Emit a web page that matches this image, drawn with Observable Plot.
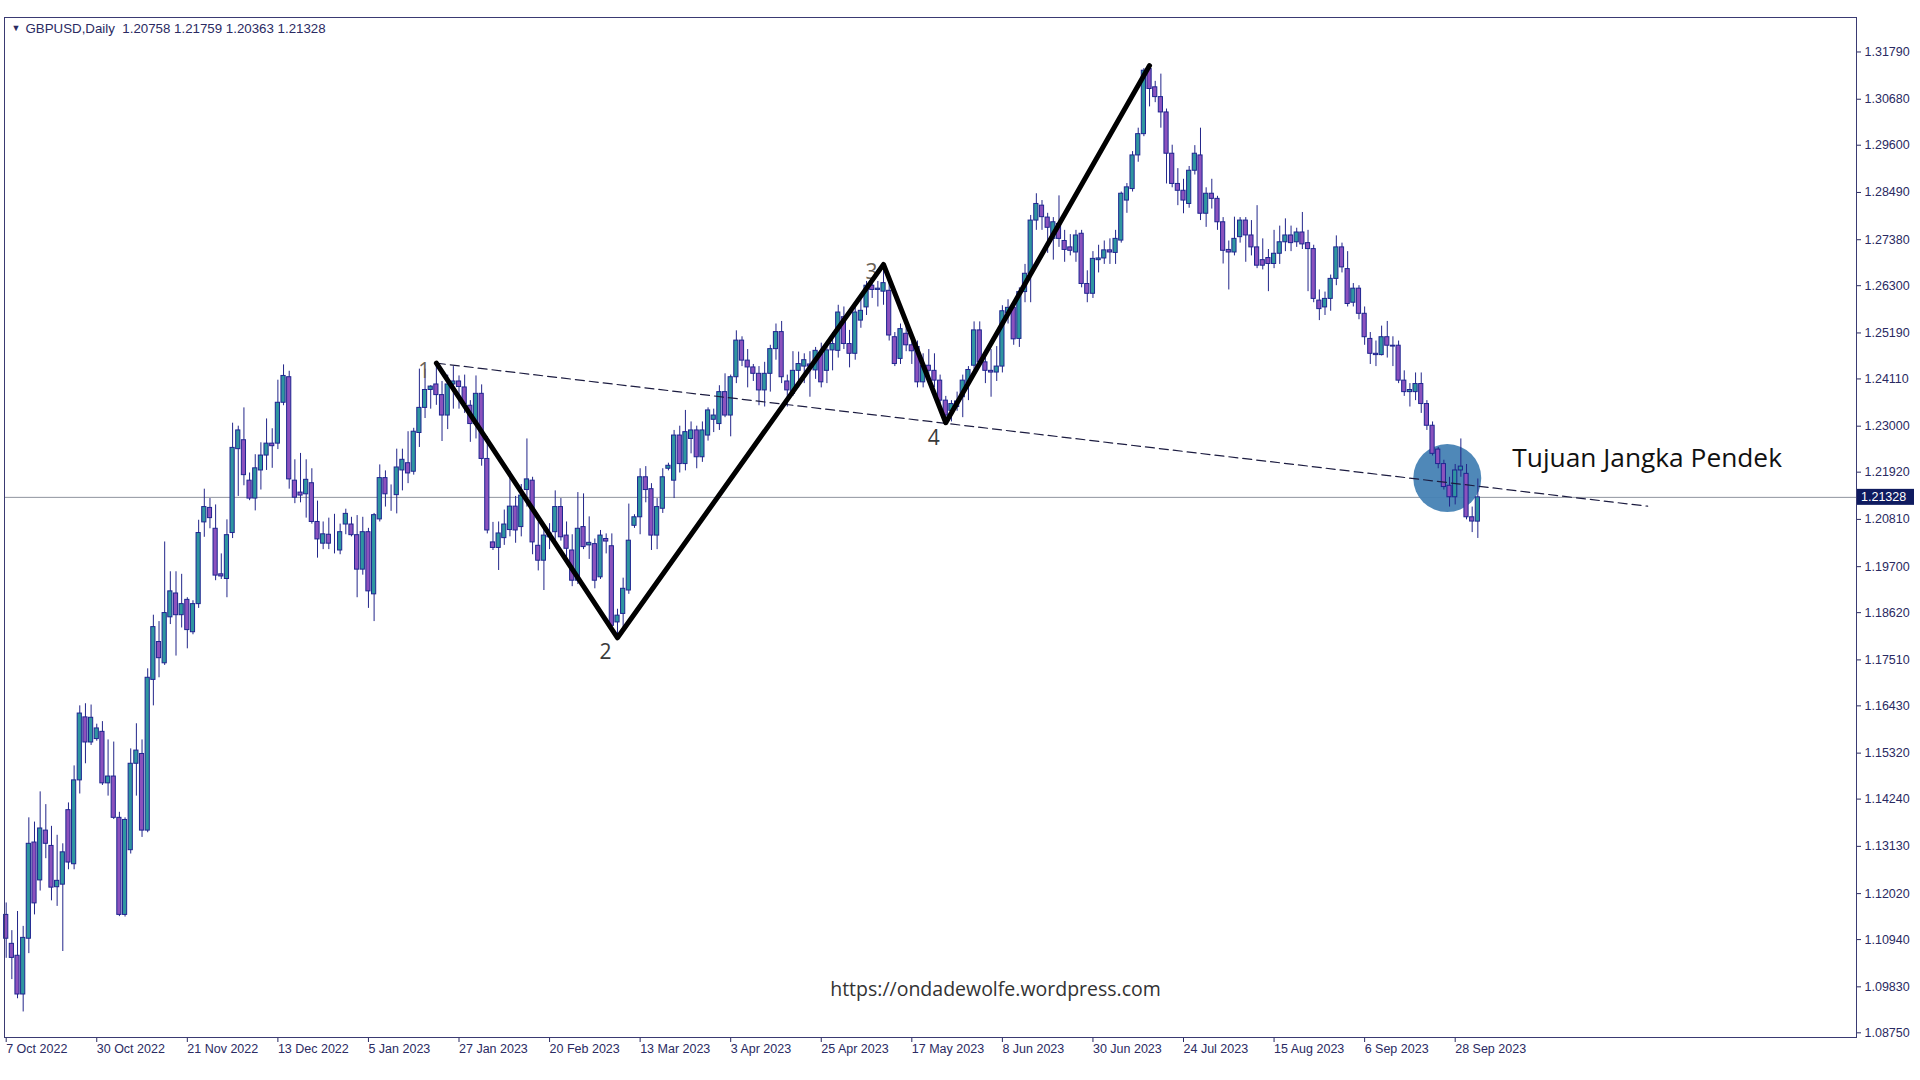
<!DOCTYPE html>
<html><head><meta charset="utf-8">
<script src="https://cdn.jsdelivr.net/npm/d3@7"></script>
<script src="https://cdn.jsdelivr.net/npm/@observablehq/plot@0.6"></script>
<style>html,body{margin:0;padding:0;background:#fff;overflow:hidden}</style>
</head><body><div id="chart"></div>
<script>
const symbol = "GBPUSD,Daily";

const opens = [
1.1152,1.1084,1.1056,1.0965,1.1096,1.1322,1.1233,1.1350,1.1314,1.1217,
1.1223,1.1398,1.1271,1.1468,1.1616,1.1557,1.1565,1.1582,1.1461,1.1477,
1.1380,1.1152,1.1304,1.1507,1.1530,1.1350,1.1704,1.1793,1.1743,1.1851,
1.1907,1.1856,1.1892,1.1816,1.1882,1.2074,1.2108,1.2059,1.1952,1.1941,
1.2049,1.2246,1.2267,1.2172,1.2130,1.2196,1.2231,1.2259,1.2259,1.2355,
1.2415,1.2172,1.2144,1.2140,1.2166,1.2075,1.2024,1.2045,1.2020,1.2008,
1.2069,1.2069,1.2044,1.1963,1.2051,1.1905,1.2081,1.2178,1.2148,1.2138,
1.2196,1.2213,1.2193,1.2284,1.2343,1.2385,1.2398,1.2373,1.2325,1.2398,
1.2405,1.2391,1.2348,1.2305,1.2376,1.2223,1.2027,1.2014,1.2037,1.2056,
1.2111,1.2063,1.2150,1.2172,1.2019,1.1984,1.2039,1.2051,1.2110,1.2043,
1.2008,1.1937,1.2063,1.2020,1.2023,1.1945,1.2035,1.2018,1.1839,1.1859,
1.1914,1.2066,1.2086,1.2180,1.2152,1.2043,1.2106,1.2200,1.2172,1.2278,
1.2211,1.2270,1.2290,1.2227,1.2278,1.2315,1.2305,1.2380,1.2325,1.2415,
1.2501,1.2454,1.2438,1.2423,1.2384,1.2423,1.2481,1.2521,1.2405,1.2376,
1.2430,1.2440,1.2445,1.2431,1.2469,1.2430,1.2478,1.2477,1.2556,1.2493,
1.2470,1.2548,1.2579,1.2630,1.2620,1.2616,1.2618,1.2509,1.2458,1.2517,
1.2490,1.2486,1.2403,1.2442,1.2430,1.2407,1.2360,1.2336,1.2345,1.2368,
1.2400,1.2442,1.2525,1.2450,1.2430,1.2426,1.2440,1.2565,1.2578,1.2505,
1.2615,1.2658,1.2783,1.2818,1.2790,1.2740,1.2775,1.2735,1.2720,1.2708,
1.2752,1.2634,1.2611,1.2690,1.2694,1.2713,1.2707,1.2736,1.2830,1.2857,
1.2936,1.2986,1.3139,1.3096,1.3073,1.3037,1.2940,1.2869,1.2853,1.2822,
1.2900,1.2936,1.2799,1.2846,1.2834,1.2779,1.2714,1.2708,1.2744,1.2783,
1.2748,1.2720,1.2690,1.2695,1.2681,1.2705,1.2732,1.2748,1.2732,1.2755,
1.2730,1.2716,1.2595,1.2579,1.2599,1.2646,1.2720,1.2669,1.2590,1.2623,
1.2564,1.2505,1.2470,1.2467,1.2509,1.2489,1.2489,1.2407,1.2380,1.2380,
1.2399,1.2352,1.2301,1.2245,1.2211,1.2160,1.2133,1.2196,1.2188,1.2086,
1.20758];

const highs = [
1.1180,1.1115,1.1160,1.1125,1.1380,1.1370,1.1441,1.1411,1.1360,1.1339,
1.1319,1.1415,1.1502,1.1643,1.1648,1.1645,1.1600,1.1606,1.1563,1.1558,
1.1393,1.1380,1.1542,1.1601,1.1563,1.1730,1.1856,1.1841,1.2028,1.1958,
1.1958,1.1952,1.1897,1.1890,1.2079,1.2152,1.2130,1.2115,1.2000,1.2080,
1.2307,1.2300,1.2343,1.2190,1.2233,1.2261,1.2317,1.2294,1.2408,1.2444,
1.2429,1.2221,1.2236,1.2221,1.2200,1.2124,1.2075,1.2084,1.2093,1.2070,
1.2105,1.2086,1.2090,1.2086,1.2060,1.2095,1.2209,1.2195,1.2162,1.2246,
1.2246,1.2287,1.2295,1.2434,1.2434,1.2395,1.2448,1.2405,1.2420,1.2440,
1.2418,1.2420,1.2360,1.2418,1.2397,1.2275,1.2074,1.2075,1.2103,1.2194,
1.2135,1.2163,1.2270,1.2180,1.2075,1.2060,1.2071,1.2148,1.2130,1.2075,
1.2045,1.2144,1.2141,1.2087,1.2035,1.2055,1.2047,1.2047,1.1870,1.1943,
1.2117,1.2092,1.2200,1.2205,1.2165,1.2130,1.2200,1.2213,1.2290,1.2300,
1.2337,1.2310,1.2300,1.2310,1.2343,1.2340,1.2395,1.2423,1.2420,1.2524,
1.2510,1.2480,1.2445,1.2440,1.2450,1.2490,1.2540,1.2546,1.2420,1.2475,
1.2474,1.2470,1.2475,1.2485,1.2495,1.2490,1.2520,1.2584,1.2580,1.2525,
1.2580,1.2600,1.2640,1.2645,1.2640,1.2680,1.2640,1.2520,1.2540,1.2547,
1.2510,1.2500,1.2470,1.2480,1.2470,1.2420,1.2370,1.2360,1.2380,1.2420,
1.2440,1.2545,1.2545,1.2480,1.2480,1.2487,1.2583,1.2597,1.2590,1.2625,
1.2680,1.2795,1.2846,1.2830,1.2800,1.2790,1.2841,1.2760,1.2750,1.2760,
1.2760,1.2665,1.2710,1.2725,1.2735,1.2740,1.2760,1.2850,1.2870,1.2945,
1.3000,1.3140,1.3147,1.3110,1.3127,1.3045,1.2960,1.2905,1.2880,1.2910,
1.2959,1.3000,1.2860,1.2880,1.2840,1.2790,1.2735,1.2791,1.2790,1.2790,
1.2783,1.2818,1.2740,1.2715,1.2760,1.2770,1.2787,1.2770,1.2765,1.2802,
1.2760,1.2725,1.2620,1.2615,1.2655,1.2747,1.2730,1.2710,1.2635,1.2630,
1.2580,1.2520,1.2500,1.2535,1.2546,1.2510,1.2500,1.2430,1.2400,1.2425,
1.2425,1.2360,1.2310,1.2250,1.2220,1.2180,1.2210,1.2270,1.2210,1.2110,
1.21759];

const lows = [
1.1050,1.1000,1.0955,1.0924,1.1061,1.1152,1.1208,1.1284,1.1185,1.1172,
1.1066,1.1258,1.1258,1.1436,1.1507,1.1550,1.1560,1.1456,1.1431,1.1376,
1.1148,1.1147,1.1295,1.1431,1.1334,1.1345,1.1643,1.1709,1.1738,1.1834,
1.1760,1.1826,1.1777,1.1810,1.1872,1.2039,1.2059,1.1937,1.1940,1.1897,
1.2036,1.2135,1.2160,1.2125,1.2101,1.2150,1.2196,1.2201,1.2245,1.2348,
1.2152,1.2118,1.2120,1.2084,1.2070,1.1990,1.2010,1.2010,1.2000,1.1998,
1.2045,1.2040,1.1897,1.1950,1.1872,1.1841,1.2075,1.2110,1.2100,1.2094,
1.2148,1.2165,1.2185,1.2250,1.2318,1.2340,1.2349,1.2264,1.2292,1.2340,
1.2340,1.2330,1.2262,1.2270,1.2206,1.2047,1.2008,1.1961,1.2020,1.2040,
1.2025,1.2040,1.2110,1.1998,1.1960,1.1914,1.2010,1.2020,1.2030,1.1990,
1.1923,1.1928,1.2010,1.1987,1.1918,1.1940,1.2000,1.1820,1.1803,1.1825,
1.1905,1.2060,1.2045,1.2120,1.2008,1.2010,1.2095,1.2195,1.2130,1.2190,
1.2195,1.2235,1.2200,1.2215,1.2265,1.2285,1.2290,1.2320,1.2275,1.2400,
1.2440,1.2390,1.2405,1.2348,1.2345,1.2380,1.2455,1.2400,1.2345,1.2370,
1.2390,1.2400,1.2368,1.2410,1.2390,1.2400,1.2430,1.2460,1.2480,1.2437,
1.2455,1.2530,1.2560,1.2600,1.2580,1.2584,1.2500,1.2440,1.2445,1.2475,
1.2445,1.2390,1.2390,1.2410,1.2390,1.2340,1.2308,1.2310,1.2335,1.2320,
1.2360,1.2430,1.2440,1.2400,1.2368,1.2405,1.2425,1.2540,1.2490,1.2485,
1.2590,1.2590,1.2760,1.2760,1.2706,1.2690,1.2720,1.2685,1.2700,1.2685,
1.2625,1.2590,1.2600,1.2660,1.2680,1.2680,1.2680,1.2730,1.2800,1.2850,
1.2920,1.2980,1.3050,1.3060,1.3000,1.2869,1.2860,1.2818,1.2799,1.2812,
1.2890,1.2783,1.2767,1.2810,1.2760,1.2681,1.2620,1.2700,1.2730,1.2685,
1.2700,1.2670,1.2667,1.2616,1.2670,1.2680,1.2710,1.2710,1.2720,1.2715,
1.2616,1.2590,1.2548,1.2560,1.2570,1.2630,1.2660,1.2580,1.2580,1.2550,
1.2490,1.2445,1.2440,1.2465,1.2460,1.2440,1.2400,1.2370,1.2345,1.2360,
1.2330,1.2290,1.2230,1.2200,1.2150,1.2110,1.2115,1.2180,1.2080,1.2050,
1.20363];

const closes = [
1.1096,1.1051,1.0965,1.1098,1.1319,1.1179,1.1355,1.1319,1.1216,1.1232,
1.1299,1.1275,1.1468,1.1625,1.1557,1.1615,1.1590,1.1461,1.1477,1.1380,
1.1152,1.1375,1.1507,1.1538,1.1350,1.1709,1.1828,1.1755,1.1861,1.1912,
1.1856,1.1882,1.1821,1.1882,1.2049,1.2110,1.2084,1.1949,1.1947,1.2044,
1.2249,1.2290,1.2185,1.2130,1.2201,1.2231,1.2259,1.2253,1.2355,1.2418,
1.2175,1.2132,1.2137,1.2174,1.2075,1.2034,1.2046,1.2024,1.2020,1.2051,
1.2094,1.2044,1.1963,1.2051,1.1912,1.2091,1.2178,1.2140,1.2148,1.2203,
1.2221,1.2189,1.2287,1.2343,1.2385,1.2393,1.2373,1.2325,1.2398,1.2405,
1.2392,1.2352,1.2305,1.2376,1.2223,1.2055,1.2014,1.2048,1.2069,1.2111,
1.2055,1.2137,1.2175,1.2027,1.1984,1.2043,1.2048,1.2110,1.2039,1.2012,
1.1937,1.2059,1.2016,1.2026,1.1937,1.2043,1.2029,1.1831,1.1855,1.1918,
1.2031,1.2086,1.2180,1.2150,1.2043,1.2110,1.2180,1.2207,1.2278,1.2211,
1.2286,1.2290,1.2227,1.2290,1.2337,1.2325,1.2380,1.2325,1.2415,1.2501,
1.2454,1.2438,1.2423,1.2384,1.2423,1.2481,1.2521,1.2415,1.2384,1.2430,
1.2446,1.2455,1.2440,1.2477,1.2403,1.2478,1.2493,1.2567,1.2493,1.2470,
1.2567,1.2571,1.2630,1.2620,1.2623,1.2636,1.2513,1.2446,1.2528,1.2490,
1.2476,1.2403,1.2442,1.2430,1.2407,1.2360,1.2325,1.2352,1.2358,1.2407,
1.2432,1.2525,1.2450,1.2430,1.2426,1.2440,1.2570,1.2578,1.2504,1.2615,
1.2658,1.2783,1.2822,1.2791,1.2766,1.2779,1.2740,1.2714,1.2712,1.2748,
1.2634,1.2611,1.2693,1.2694,1.2713,1.2708,1.2740,1.2846,1.2861,1.2936,
1.2986,1.3135,1.3092,1.3073,1.3037,1.2940,1.2869,1.2853,1.2830,1.2900,
1.2940,1.2799,1.2846,1.2834,1.2779,1.2712,1.2708,1.2740,1.2783,1.2748,
1.2720,1.2677,1.2677,1.2681,1.2705,1.2732,1.2748,1.2730,1.2755,1.2727,
1.2716,1.2599,1.2575,1.2599,1.2646,1.2720,1.2673,1.2587,1.2623,1.2564,
1.2509,1.2470,1.2467,1.2509,1.2489,1.2487,1.2407,1.2380,1.2385,1.2399,
1.2352,1.2301,1.2235,1.2211,1.2157,1.2133,1.2196,1.2205,1.2086,1.2076,
1.21328];

const xTickBars = [0,16,32,48,64,80,96,112,128,144,160,176,192,208,224,240,256];
const xTickLabels = ["7 Oct 2022","30 Oct 2022","21 Nov 2022","13 Dec 2022","5 Jan 2023","27 Jan 2023","20 Feb 2023","13 Mar 2023","3 Apr 2023","25 Apr 2023","17 May 2023","8 Jun 2023","30 Jun 2023","24 Jul 2023","15 Aug 2023","6 Sep 2023","28 Sep 2023"];
const yTicks = [1.31790,1.30680,1.29600,1.28490,1.27380,1.26300,1.25190,1.24110,1.23000,1.21920,1.20810,1.19700,1.18620,1.17510,1.16430,1.15320,1.14240,1.13130,1.12020,1.10940,1.09830,1.08750];

const waveBars   = [76, 108, 155, 166, 202];
const wavePrices = [1.2448, 1.1803, 1.2680, 1.2308, 1.3147];
const waveLabels = ["1", "2", "3", "4", ""];
const trendBars   = [76, 290];
const trendPrices = [1.2448, 1.2112];
const targetBar = [254.6];
const targetPrice = [1.2178];
const targetText = "Tujuan Jangka Pendek";
const watermark = "https://ondadewolfe.wordpress.com";

const candles = opens.map((o, i) => ({bar: i, open: o, high: highs[i], low: lows[i], close: closes[i]}));
const last = candles[candles.length - 1];
const currentPrice = last.close;
const headerText = `${symbol}  ${last.open.toFixed(5)} ${last.high.toFixed(5)} ${last.low.toFixed(5)} ${last.close.toFixed(5)}`;
const wave = waveBars.map((b, i) => ({bar: b, price: wavePrices[i], label: waveLabels[i]}));
const trend = trendBars.map((b, i) => ({bar: b, price: trendPrices[i]}));
const target = targetBar.map((b, i) => ({bar: b, price: targetPrice[i]}));

const navy = "#2a2a62";
const font = "'Liberation Sans', Arial, sans-serif";

const plot = Plot.plot({
  width: 1920, height: 1080,
  marginTop: 17, marginLeft: 4, marginRight: 64, marginBottom: 43,
  style: {fontFamily: font, background: "#fff", overflow: "visible"},
  x: {type: "linear", domain: [-0.3, 326.9], label: null},
  y: {domain: [1.0864, 1.3260], label: null},
  marks: [
    Plot.ruleY([currentPrice], {stroke: "#8f949e", strokeWidth: 1}),
    Plot.dot(target, {x: "bar", y: "price", r: 34, fill: "#4682b4", fillOpacity: 0.95, stroke: "none"}),
    Plot.ruleX(candles, {x: "bar", y1: "low", y2: "high", stroke: "#23268a", strokeWidth: 1}),
    Plot.rect(candles, {x1: d => d.bar - 0.37, x2: d => d.bar + 0.37, y1: "open", y2: "close",
      fill: d => d.close >= d.open ? "#2f96a0" : "#8b52bd", stroke: "#1e2590", strokeWidth: 1}),
    Plot.line(trend, {x: "bar", y: "price", stroke: "#1c1c40", strokeWidth: 1.2, strokeDasharray: "9,5"}),
    Plot.text(wave.filter(d => d.label === "1" || d.label === "3"), {x: "bar", y: "price", text: "label", dx: -12, dy: 8, fontSize: 21, fill: "#6b6256", fontFamily: "'Open Sans', sans-serif"}),
    Plot.text(wave.filter(d => d.label === "2" || d.label === "4"), {x: "bar", y: "price", text: "label", dx: -12, dy: 15, fontSize: 21, fill: "#3a3a3a", fontFamily: "'Open Sans', sans-serif"}),
    Plot.line(wave, {x: "bar", y: "price", stroke: "#000", strokeWidth: 5, strokeLinejoin: "round", strokeLinecap: "round"}),
    Plot.text(target, {x: "bar", y: "price", text: () => targetText, dx: 65, dy: -20, textAnchor: "start", fontSize: 26.3, fill: "#111", fontFamily: "'Open Sans', sans-serif"}),
    Plot.text([watermark], {frameAnchor: "bottom", text: d => d, dx: 65, dy: -48, lineAnchor: "middle", fontSize: 19.5, fill: "#333", fontFamily: "'Open Sans', sans-serif"}),
    Plot.text(["\u25BC"], {frameAnchor: "top-left", text: d => d, dx: 7, dy: 11, lineAnchor: "middle", fontSize: 9, fill: navy}),
    Plot.text([headerText], {frameAnchor: "top-left", text: d => d, dx: 21, dy: 11, lineAnchor: "middle", textAnchor: "start", fontSize: 13.3, fill: navy}),
    Plot.axisY({ticks: yTicks, anchor: "right", label: null, tickSize: 4, tickPadding: 4, tickFormat: d => d.toFixed(5), fontSize: 12.5, color: navy}),
    Plot.axisX({ticks: xTickBars, anchor: "bottom", label: null, tickSize: 5, tickPadding: 2, textAnchor: "start",
      tickFormat: d => xTickLabels[xTickBars.indexOf(d)], fontSize: 12.5, color: navy}),
    Plot.frame({stroke: "#3a3a72", strokeWidth: 1})
  ]
});

const svg = d3.select(plot);
const yPos = plot.scale("y").apply(currentPrice);
const xRight = plot.scale("x").range[1];
svg.append("rect").attr("x", xRight + 1).attr("y", yPos - 8).attr("width", 57).attr("height", 16).attr("fill", "#0f1b60");
svg.append("text").attr("x", xRight + 5).attr("y", yPos).attr("dy", "0.35em").attr("fill", "#fff")
  .attr("text-anchor", "start").attr("font-size", 12.5).attr("font-family", font).text(currentPrice.toFixed(5));

document.getElementById("chart").appendChild(plot);
</script>
</body></html>
